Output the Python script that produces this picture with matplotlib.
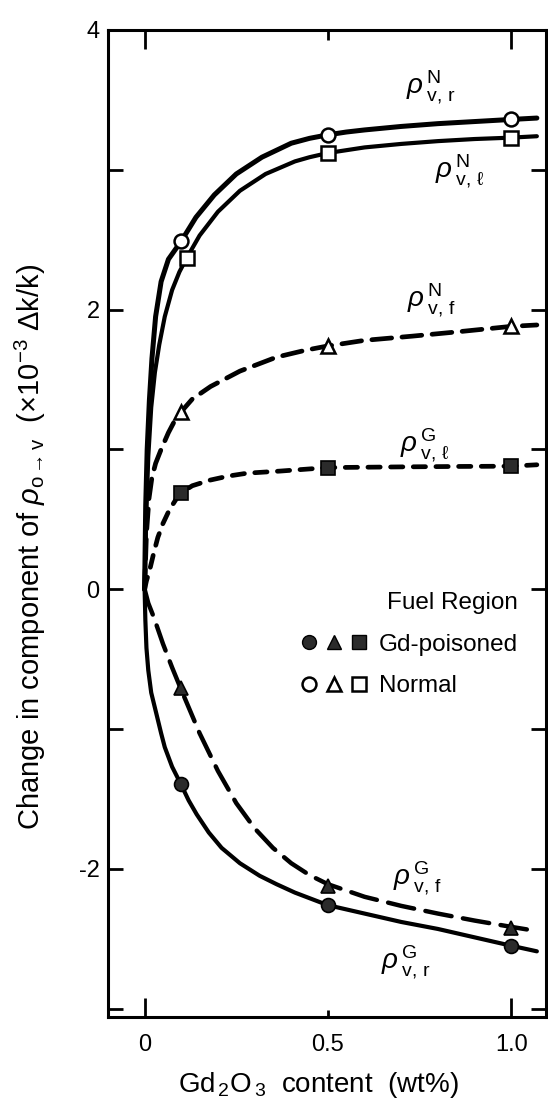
import matplotlib
matplotlib.use('Agg')
import matplotlib.pyplot as plt
from matplotlib.lines import Line2D
from matplotlib.legend_handler import HandlerTuple

plt.rcParams['font.family'] = ['Liberation Sans', 'DejaVu Sans']
plt.rcParams['mathtext.fontset'] = 'custom'
plt.rcParams['mathtext.rm'] = 'Liberation Sans'
plt.rcParams['mathtext.it'] = 'Liberation Sans:italic'
plt.rcParams['mathtext.bf'] = 'Liberation Sans:bold'

# calculated points, Gd2O3 content in wt%
x_pts = [0.1, 0.5, 1.0]
x_pts_nl = [0.115, 0.5, 1.0]
nr_pts = [2.49, 3.25, 3.36]
nl_pts = [2.37, 3.12, 3.23]
nf_pts = [1.27, 1.74, 1.88]
gl_pts = [0.69, 0.87, 0.88]
gf_pts = [-0.71, -2.12, -2.42]
gr_pts = [-1.39, -2.26, -2.55]

# trend curves drawn through the points
nr_cx = [0, 0.003, 0.007, 0.013, 0.02, 0.03, 0.045, 0.065, 0.1, 0.14, 0.19, 0.25,
         0.32, 0.4, 0.45, 0.5, 0.55, 0.6, 0.7, 0.8, 0.9, 1.0, 1.07]
nr_cy = [0, 0.6, 1.0, 1.35, 1.65, 1.95, 2.2, 2.36, 2.49, 2.66, 2.82, 2.97,
         3.09, 3.19, 3.225, 3.25, 3.27, 3.285, 3.31, 3.33, 3.345, 3.36, 3.37]

nl_cx = [0, 0.004, 0.01, 0.018, 0.028, 0.04, 0.055, 0.075, 0.095, 0.115, 0.15, 0.2,
         0.26, 0.33, 0.41, 0.45, 0.5, 0.55, 0.6, 0.7, 0.8, 0.9, 1.0, 1.07]
nl_cy = [0, 0.5, 0.95, 1.3, 1.55, 1.75, 1.95, 2.14, 2.27, 2.37, 2.53, 2.7,
         2.85, 2.97, 3.06, 3.09, 3.12, 3.14, 3.16, 3.185, 3.205, 3.22, 3.23, 3.24]

nf_cx = [0, 0.005, 0.012, 0.02, 0.03, 0.045, 0.065, 0.085, 0.1, 0.13, 0.18, 0.26,
         0.36, 0.44, 0.5, 0.6, 0.73, 0.85, 1.0, 1.07]
nf_cy = [0, 0.4, 0.65, 0.8, 0.9, 1.0, 1.12, 1.22, 1.27, 1.36, 1.45, 1.56,
         1.66, 1.71, 1.74, 1.78, 1.81, 1.84, 1.88, 1.89]

gl_cx = [0, 0.005, 0.014, 0.025, 0.036, 0.05, 0.068, 0.085, 0.1, 0.13, 0.178, 0.23,
         0.28, 0.37, 0.5, 0.7, 0.85, 1.0, 1.07]
gl_cy = [0, 0.06, 0.14, 0.26, 0.37, 0.47, 0.57, 0.64, 0.69, 0.74, 0.78, 0.81,
         0.83, 0.845, 0.87, 0.875, 0.878, 0.88, 0.89]

gf_cx = [0, 0.01, 0.025, 0.05, 0.075, 0.1, 0.15, 0.2, 0.25, 0.3, 0.35, 0.4, 0.45,
         0.5, 0.6, 0.7, 0.8, 0.9, 1.0, 1.07]
gf_cy = [0, -0.1, -0.2, -0.39, -0.56, -0.72, -1.03, -1.3, -1.53, -1.71, -1.85, -1.96,
         -2.045, -2.11, -2.2, -2.265, -2.32, -2.37, -2.415, -2.445]

gr_cx = [0, 0.002, 0.005, 0.01, 0.018, 0.032, 0.045, 0.055, 0.075, 0.1, 0.12, 0.142,
         0.175, 0.21, 0.26, 0.314, 0.36, 0.41, 0.5, 0.6, 0.7, 0.8, 0.9, 1.0, 1.07]
gr_cy = [0, -0.22, -0.42, -0.58, -0.74, -0.89, -1.03, -1.13, -1.27, -1.4, -1.51, -1.61,
         -1.74, -1.85, -1.96, -2.05, -2.11, -2.17, -2.26, -2.32, -2.38, -2.43, -2.49, -2.55, -2.59]

fig = plt.figure(figsize=(5.48, 11.02), dpi=100)
ax = fig.add_axes([0.197, 0.0771, 0.7994, 0.8957])

ink = 'black'
fill = '#2b2b2b'

ax.plot(nr_cx, nr_cy, color=ink, lw=3.6, solid_capstyle='round')
ax.plot(nl_cx, nl_cy, color=ink, lw=3.0, solid_capstyle='round')
ax.plot(gr_cx, gr_cy, color=ink, lw=3.0, solid_capstyle='round')
ax.plot(nf_cx, nf_cy, color=ink, lw=3.4, dashes=(4.2, 2.2), dash_capstyle='round')
ax.plot(gl_cx, gl_cy, color=ink, lw=3.4, dashes=(2.6, 2.2), dash_capstyle='round')
ax.plot(gf_cx, gf_cy, color=ink, lw=3.2, dashes=(6.0, 2.6), dash_capstyle='round')

open_mk = dict(ls='none', mfc='white', mec=ink, mew=1.8, ms=10, zorder=5)
fill_mk = dict(ls='none', mfc=fill, mec=ink, mew=1.2, ms=10, zorder=5)
ax.plot(x_pts, nr_pts, marker='o', **open_mk)
ax.plot(x_pts_nl, nl_pts, marker='s', **open_mk)
ax.plot(x_pts, nf_pts, marker='^', **open_mk)
ax.plot(x_pts, gl_pts, marker='s', **fill_mk)
ax.plot(x_pts, gf_pts, marker='^', **fill_mk)
ax.plot(x_pts, gr_pts, marker='o', **fill_mk)

# curve names
lab = dict(fontsize=20, ha='left', va='center')
ax.text(0.713, 3.59, r'$\rho\,{}^{\mathrm{N}}_{\mathrm{v,\,r}}$', **lab)
ax.text(0.792, 2.99, r'$\rho\,{}^{\mathrm{N}}_{\mathrm{v,\,\ell}}$', **lab)
ax.text(0.716, 2.07, r'$\rho\,{}^{\mathrm{N}}_{\mathrm{v,\,f}}$', **lab)
ax.text(0.697, 1.03, r'$\rho\,{}^{\mathrm{G}}_{\mathrm{v,\,\ell}}$', **lab)
ax.text(0.678, -2.07, r'$\rho\,{}^{\mathrm{G}}_{\mathrm{v,\,f}}$', **lab)
ax.text(0.645, -2.67, r'$\rho\,{}^{\mathrm{G}}_{\mathrm{v,\,r}}$', **lab)

ax.set_xlim(-0.10, 1.095)
ax.set_ylim(-3.06, 4.0)
ax.set_xticks([0, 0.5, 1.0])
ax.set_xticklabels(['0', '0.5', '1.0'])
ax.set_yticks([-2, 0, 2, 4])
ax.set_yticklabels(['-2', '0', '2', '4'])
ax.set_yticks([-3, -1, 1, 3], minor=True)

ax.tick_params(which='both', direction='in', top=True, right=True, width=2,
               labelsize=17, color=ink)
ax.tick_params(axis='x', which='major', length=14, pad=12)
ax.tick_params(axis='y', which='both', length=11, pad=6)
for t in ax.xaxis.get_major_ticks():
    if abs(t.get_loc() - 0.5) < 1e-9:
        t.tick1line.set_markersize(5)
        t.tick2line.set_markersize(7)
for s in ax.spines.values():
    s.set_linewidth(2.2)

ax.set_xlabel(r'Gd$_{\,2}$O$_{\,3}$  content  (wt%)', fontsize=20)
ax.xaxis.set_label_coords(0.48, -0.054)
ax.set_ylabel(r'Change in component of $\rho_{\mathrm{o\rightarrow v}}$  (×10$^{-3}$ $\Delta$k/k)',
              fontsize=21)
ax.yaxis.set_label_coords(-0.138, 0.476)

# legend: three marker shapes per fuel region
filled = dict(ls='none', mfc=fill, mec=ink, mew=1.0, ms=10)
hollow = dict(ls='none', mfc='white', mec=ink, mew=1.8, ms=10)
h_gd = tuple(Line2D([], [], marker=m, **filled) for m in ('o', '^', 's'))
h_n = tuple(Line2D([], [], marker=m, **hollow) for m in ('o', '^', 's'))
ax.legend([h_gd, h_n], ['Gd-poisoned', 'Normal'],
          handler_map={tuple: HandlerTuple(ndivide=None, pad=0.3)},
          title='Fuel Region', title_fontsize=17.5, fontsize=17.5,
          loc='upper right', bbox_to_anchor=(0.958, 0.44), frameon=False,
          handlelength=2.8, handletextpad=0.45, labelspacing=0.8,
          alignment='right', borderaxespad=0)

fig.savefig('out.png', dpi=100)
